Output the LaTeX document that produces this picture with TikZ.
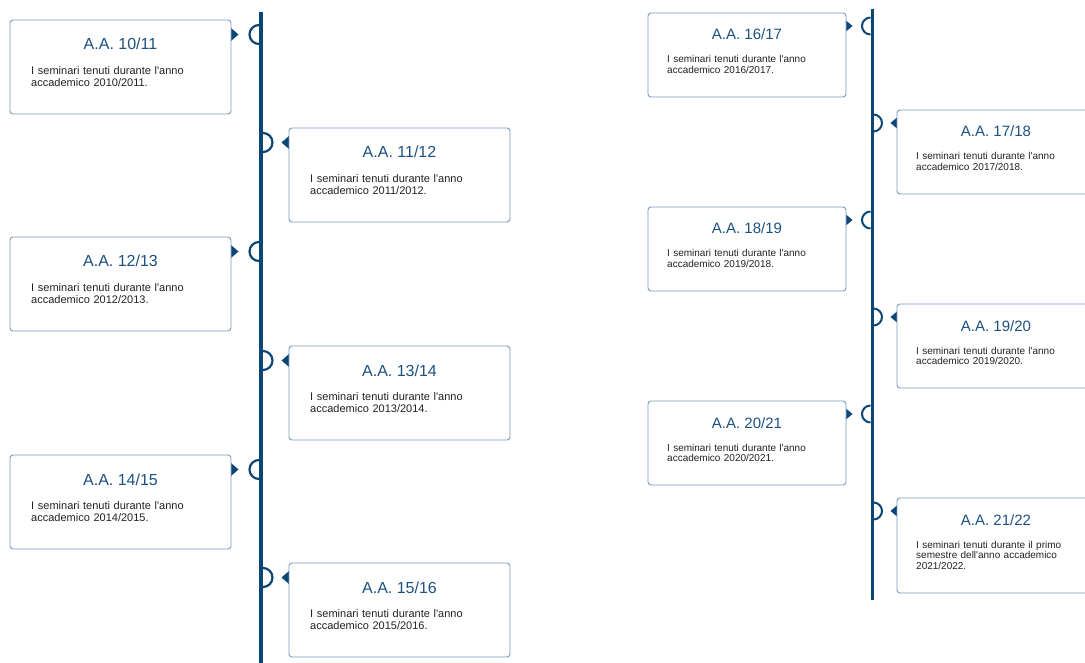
\documentclass[tikz,border=0pt]{standalone}
\usepackage{fontspec}
\newfontfamily\lsans{Liberation Sans}
\definecolor{tlblue}{HTML}{0B4676}
\definecolor{ttlblue}{HTML}{1D5282}
\definecolor{cardborder}{HTML}{7C9BBF}
\definecolor{bodytext}{HTML}{222222}
\tikzset{
  tlline/.style={draw=tlblue, line width=4pt},
  tllineS/.style={draw=tlblue, line width=3pt},
  semi/.style={draw=tlblue, line width=2.2pt},
  pointer/.style={fill=tlblue, draw=none},
  card/.style={draw=cardborder, line width=0.9pt, rounded corners=3pt, fill=white},
  ttlL/.style={text=ttlblue, font=\lsans\fontsize{16}{19}\selectfont, inner sep=0pt, anchor=base},
  bodyL/.style={text=bodytext, font=\lsans\fontsize{11}{12.2}\selectfont, inner sep=0pt, anchor=base west, align=left, text width=190pt},
  ttlS/.style={text=ttlblue, font=\lsans\fontsize{15}{18}\selectfont, inner sep=0pt, anchor=base},
  bodyS/.style={text=bodytext, font=\lsans\fontsize{10}{10.8}\selectfont, inner sep=0pt, anchor=base west, align=left, text width=170pt},
}
% big cards: name, x, top, title, body
\newcommand\cardBig[5]{%
  \path[card] (#2,#3) rectangle ++(221,94);
  \node[ttlL] (#1t) at (#2+110.5,#3+30) {#4};
  \node[bodyL] (#1b) at (#2+21,#3+54.5) {#5};
}
% small cards: name, x, top, height, title, body
\newcommand\cardSmall[6]{%
  \path[card] (#2,#3) rectangle ++(198,#4);
  \node[ttlS] (#1t) at (#2+99,#3+27) {#5};
  \node[bodyS] (#1b) at (#2+19,#3+50) {#6};
}
\begin{document}
\begin{tikzpicture}[x=1pt,y=-1pt]
\useasboundingbox (0,0) rectangle (1085,663);
\clip (0,0) rectangle (1085,663);
\fill[white] (0,0) rectangle (1085,663);

% ---------- left timeline ----------
\coordinate (LTop) at (261,12);
\coordinate (LBot) at (261,664);
\draw[tlline] (LTop) -- (LBot);

% left column cards (pointer on right)
\foreach \t in {20,237,455}{
  \fill[pointer] (231,\t+8) -- (238.5,\t+14.5) -- (231,\t+21) -- cycle;
  \draw[semi] (259,\t+5) arc[start angle=-90, end angle=-270, radius=9.5];
}
% right column cards (pointer on left)
\foreach \t in {128,346,563}{
  \fill[pointer] (289,\t+8) -- (281.5,\t+14.5) -- (289,\t+21) -- cycle;
  \draw[semi] (263,\t+5) arc[start angle=-90, end angle=90, radius=9.5];
}

\cardBig{c1011}{10}{20}{A.A. 10/11}{I seminari tenuti durante l'anno\\accademico 2010/2011.}
\cardBig{c1112}{289}{128}{A.A. 11/12}{I seminari tenuti durante l'anno\\accademico 2011/2012.}
\cardBig{c1213}{10}{237}{A.A. 12/13}{I seminari tenuti durante l'anno\\accademico 2012/2013.}
\cardBig{c1314}{289}{346}{A.A. 13/14}{I seminari tenuti durante l'anno\\accademico 2013/2014.}
\cardBig{c1415}{10}{455}{A.A. 14/15}{I seminari tenuti durante l'anno\\accademico 2014/2015.}
\cardBig{c1516}{289}{563}{A.A. 15/16}{I seminari tenuti durante l'anno\\accademico 2015/2016.}

% ---------- right timeline ----------
\coordinate (RTop) at (872,9);
\coordinate (RBot) at (872,600);
\draw[tllineS] (RTop) -- (RBot);

\foreach \t in {13,207,401}{
  \fill[pointer] (846,\t+7.5) -- (852.5,\t+13) -- (846,\t+18.5) -- cycle;
  \draw[semi, line width=2pt] (870.5,\t+4.5) arc[start angle=-90, end angle=-270, radius=8.5];
}
\foreach \t in {110,304,498}{
  \fill[pointer] (897,\t+7.5) -- (890.5,\t+13) -- (897,\t+18.5) -- cycle;
  \draw[semi, line width=2pt] (873.5,\t+4.5) arc[start angle=-90, end angle=90, radius=8.5];
}

\cardSmall{c1617}{648}{13}{84}{A.A. 16/17}{I seminari tenuti durante l'anno\\accademico 2016/2017.}
\cardSmall{c1718}{897}{110}{84}{A.A. 17/18}{I seminari tenuti durante l'anno\\accademico 2017/2018.}
\cardSmall{c1819}{648}{207}{84}{A.A. 18/19}{I seminari tenuti durante l'anno\\accademico 2019/2018.}
\cardSmall{c1920}{897}{304}{84}{A.A. 19/20}{I seminari tenuti durante l'anno\\accademico 2019/2020.}
\cardSmall{c2021}{648}{401}{84}{A.A. 20/21}{I seminari tenuti durante l'anno\\accademico 2020/2021.}
\cardSmall{c2122}{897}{498}{95}{A.A. 21/22}{I seminari tenuti durante il primo\\semestre dell'anno accademico\\2021/2022.}
\end{tikzpicture}
\end{document}
